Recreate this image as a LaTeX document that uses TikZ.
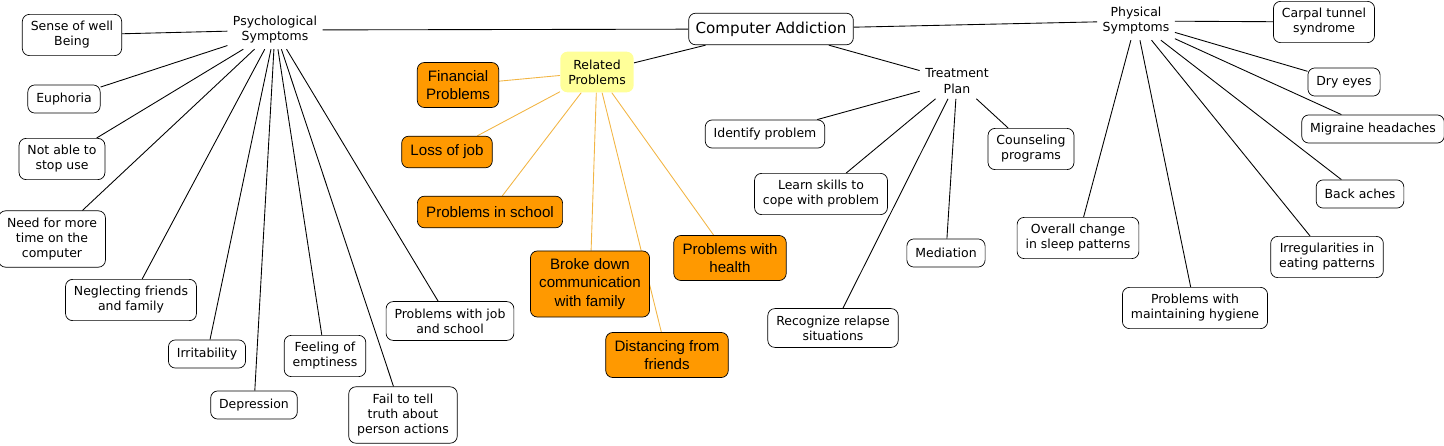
\documentclass[tikz,border=0pt]{standalone}
\usepackage{fontspec}
\setmainfont{DejaVu Sans}
\newfontfamily\orangefont{Liberation Sans}
\usetikzlibrary{backgrounds}
\definecolor{boxorange}{HTML}{FF9900}
\definecolor{lineorange}{HTML}{F2B544}
\definecolor{relyellow}{HTML}{FFFF99}

\begin{document}
\begin{tikzpicture}[x=0.02cm,y=-0.02cm,
    topic/.style={align=center,font=\fontsize{7.1}{8.6}\selectfont,inner sep=3pt},
    leaf/.style={topic,draw,rounded corners=4pt,fill=white,minimum height=16pt,inner xsep=4.8pt,inner ysep=4pt},
    prob/.style={draw,rounded corners=4pt,fill=boxorange,align=center,
        font=\orangefont\fontsize{8.6}{10.3}\selectfont,inner xsep=5pt,inner ysep=4.5pt,minimum height=18pt},
    link/.style={line width=0.5pt},
    olink/.style={line width=0.5pt,lineorange}]
    \useasboundingbox (0,0) rectangle (1444,446);

    % main topics
    \node[leaf,font=\fontsize{8.6}{10}\selectfont,minimum height=18pt,inner xsep=4pt,inner ysep=3pt] (CA) at (771,29) {Computer Addiction};
    \node[topic] (PSY) at (275,30) {Psychological\\Symptoms};
    \node[topic] (PHY) at (1136,21) {Physical\\Symptoms};
    \node[topic,fill=relyellow,rounded corners=4pt,inner sep=4.5pt] (REL) at (597,72) {Related\\Problems};
    \node[topic] (TRT) at (957,81) {Treatment\\Plan};

    % psychological symptoms
    \node[leaf] (P1) at (72,35) {Sense of well\\Being};
    \node[leaf] (P2) at (64,99) {Euphoria};
    \node[leaf] (P3) at (62,159) {Not able to\\stop use};
    \node[leaf] (P4) at (52,239) {Need for more\\time on the\\computer};
    \node[leaf] (P5) at (131,300) {Neglecting friends\\and family};
    \node[leaf] (P6) at (207,354) {Irritability};
    \node[leaf] (P7) at (254,405) {Depression};
    \node[leaf] (P8) at (325,356) {Feeling of\\emptiness};
    \node[leaf] (P9) at (403,415) {Fail to tell\\truth about\\person actions};
    \node[leaf] (P10) at (450,321) {Problems with job\\and school};

    % related problems
    \node[prob] (R1) at (458,85) {Financial\\Problems};
    \node[prob] (R2) at (447,152) {Loss of job};
    \node[prob] (R3) at (490,212) {Problems in school};
    \node[prob] (R4) at (590,284) {Broke down\\communication\\with family};
    \node[prob] (R5) at (667,355) {Distancing from\\friends};
    \node[prob] (R6) at (730,258) {Problems with\\health};

    % treatment plan
    \node[leaf] (T1) at (765,134) {Identify problem};
    \node[leaf] (T2) at (821,194) {Learn skills to\\cope with problem};
    \node[leaf] (T3) at (1031,149) {Counseling\\programs};
    \node[leaf] (T4) at (946,253) {Mediation};
    \node[leaf] (T5) at (833,328) {Recognize relapse\\situations};

    % physical symptoms
    \node[leaf] (H1) at (1324,22) {Carpal tunnel\\syndrome};
    \node[leaf] (H2) at (1344,82) {Dry eyes};
    \node[leaf] (H3) at (1373,129) {Migraine headaches};
    \node[leaf] (H4) at (1360,194) {Back aches};
    \node[leaf] (H5) at (1327,257) {Irregularities in\\eating patterns};
    \node[leaf] (H6) at (1195,308) {Problems with\\maintaining hygiene};
    \node[leaf] (H7) at (1078,238) {Overall change\\in sleep patterns};

    % connectors, behind the boxes
    \begin{pgfonlayer}{background}
    \draw[link] (CA) -- (PSY);
    \draw[link] (CA) -- (PHY);
    \draw[link] (CA) -- (REL);
    \draw[link] (CA) -- (TRT);
    \foreach \n in {P1,P2,P3,P4,P5,P6,P7,P8,P9,P10}
        \draw[link] (PSY) -- (\n);
    \foreach \n in {R1,R2,R3,R4,R5,R6}
        \draw[olink] (REL) -- (\n);
    \foreach \n in {T1,T2,T3,T4,T5}
        \draw[link] (TRT) -- (\n);
    \foreach \n in {H1,H2,H3,H4,H5,H6,H7}
        \draw[link] (PHY) -- (\n);
    \end{pgfonlayer}
\end{tikzpicture}
\end{document}
